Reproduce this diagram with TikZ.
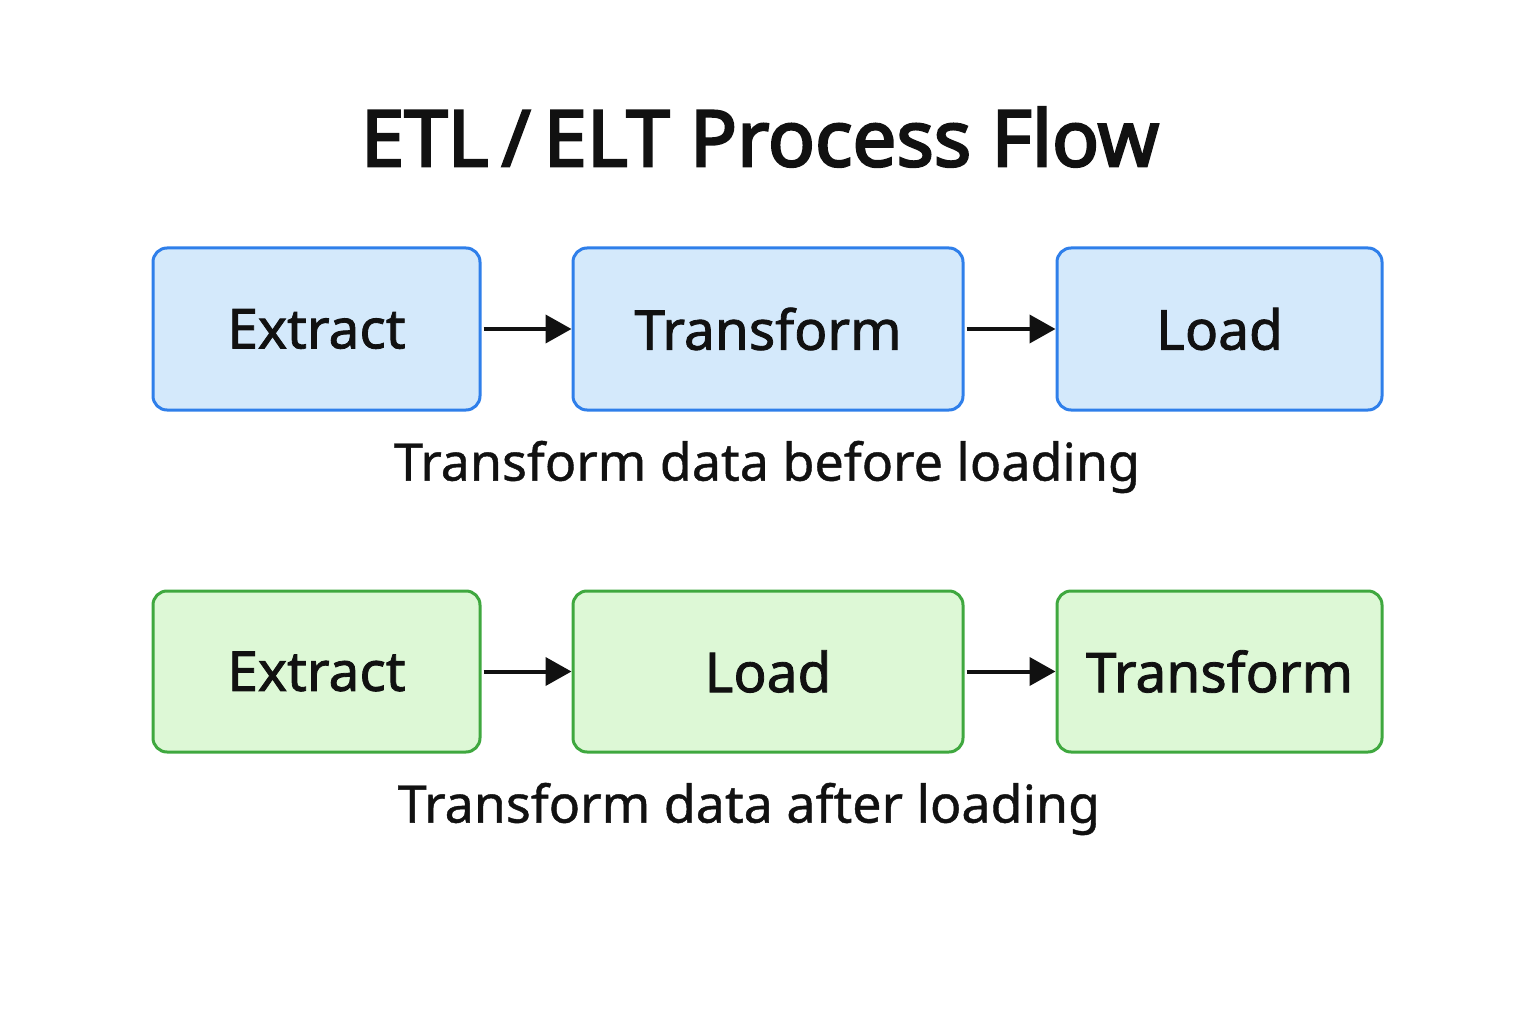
\documentclass[tikz,border=0pt]{standalone}
\usepackage{fontspec}
\setmainfont{Noto Sans}
\newfontfamily\titlefont[FakeBold=3]{Noto Sans}
\newfontfamily\boxfont[FakeBold=1.5]{Noto Sans}
\newfontfamily\capfont[FakeBold=0.8]{Noto Sans}
\usetikzlibrary{arrows.meta}
\definecolor{bfill}{HTML}{D4E9FB}
\definecolor{bline}{HTML}{2F7FEA}
\definecolor{gfill}{HTML}{DDF8D6}
\definecolor{gline}{HTML}{3FA83F}
\definecolor{ink}{HTML}{111111}
\begin{document}
\begin{tikzpicture}[x=1pt,y=-1pt,
  box/.style={draw,line width=3pt,rounded corners=14pt,inner sep=0pt,text=ink,font=\boxfont\fontsize{55}{60}\selectfont},
  blue/.style={box,fill=bfill,draw=bline},
  green/.style={box,fill=gfill,draw=gline},
  arr/.style={-{Triangle[length=26pt,width=28pt]},line width=4pt,draw=ink},
  captxt/.style={text=ink,font=\capfont\fontsize{52}{56}\selectfont}]
\useasboundingbox (0,0) rectangle (1536,1024);
\node[text=ink,font=\titlefont\fontsize{78}{84}\selectfont] (title) at (760,137) {ETL\,/\,ELT Process Flow};
\node[blue,minimum width=327pt,minimum height=162pt] (e1) at (316.5,329) {Extract};
\node[blue,minimum width=390pt,minimum height=162pt] (t1) at (768,329) {Transform};
\node[blue,minimum width=325pt,minimum height=162pt] (l1) at (1219.5,329) {Load};
\draw[arr] (e1.east) ++(2pt,0) -- (t1.west);
\draw[arr] (t1.east) ++(2pt,0) -- (l1.west);
\node[captxt] (c1) at (767,467) {Transform data before loading};
\node[green,minimum width=327pt,minimum height=161pt] (e2) at (316.5,671.5) {Extract};
\node[green,minimum width=390pt,minimum height=161pt] (l2) at (768,671.5) {Load};
\node[green,minimum width=325pt,minimum height=161pt] (t2) at (1219.5,671.5) {Transform};
\draw[arr] (e2.east) ++(2pt,0) -- (l2.west);
\draw[arr] (l2.east) ++(2pt,0) -- (t2.west);
\node[captxt] (c2) at (749,809) {Transform data after loading};
\end{tikzpicture}
\end{document}
